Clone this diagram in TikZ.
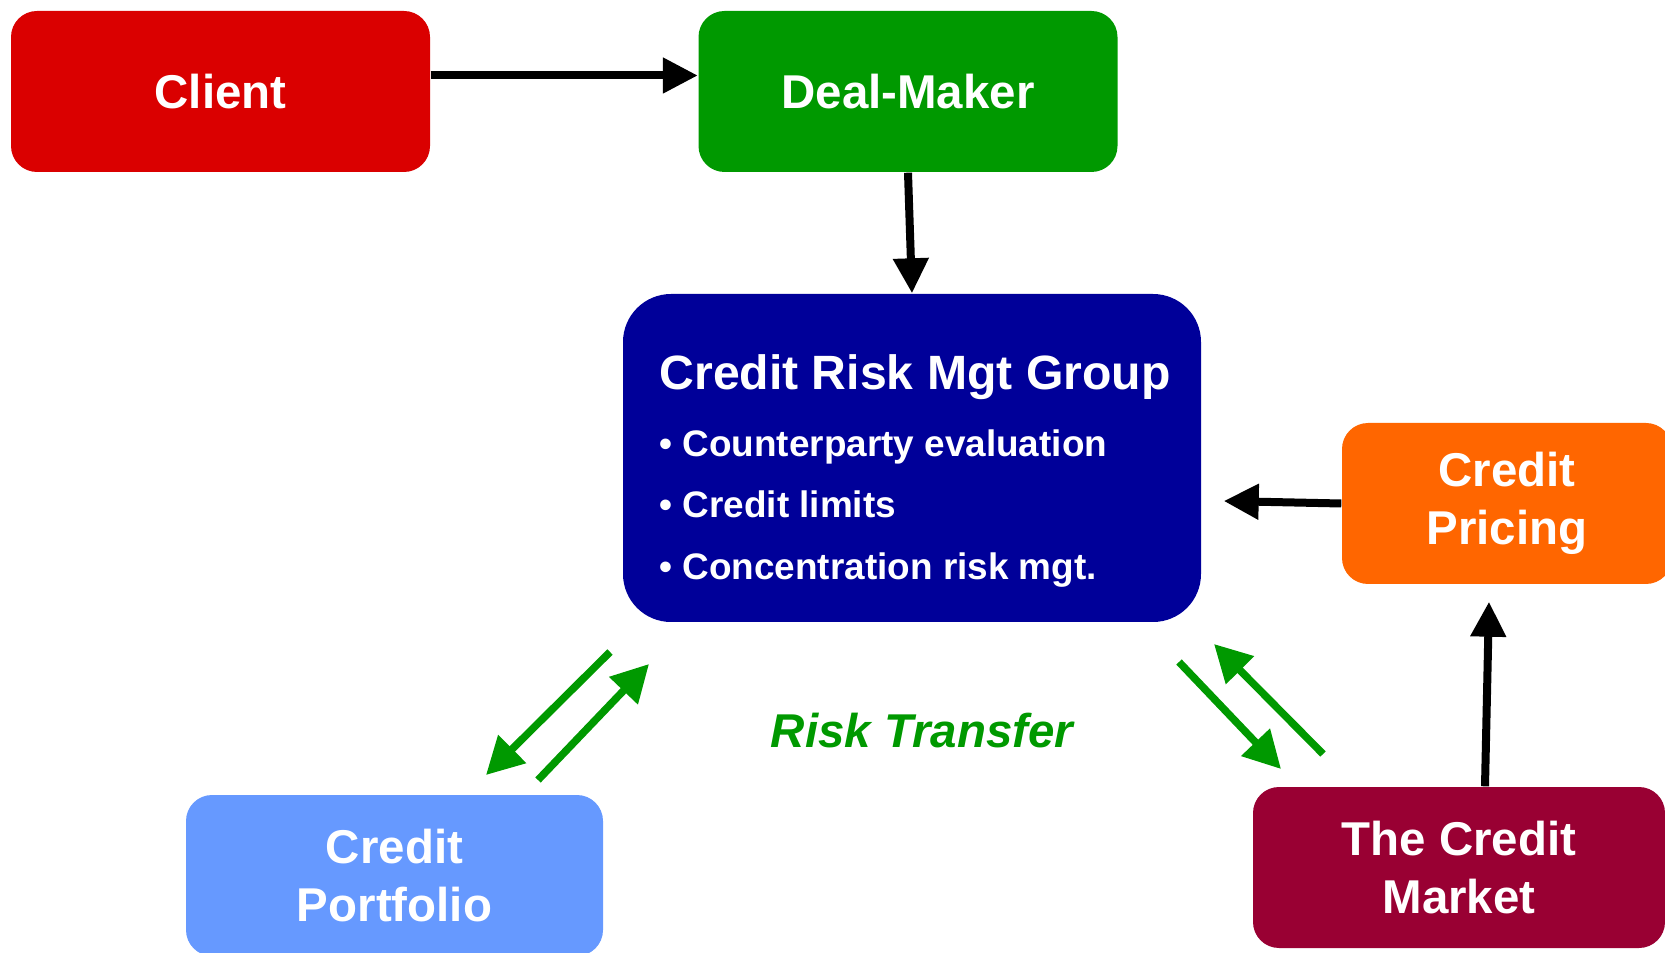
\documentclass[tikz,border=0pt]{standalone}
\usepackage{fontspec}
\setmainfont{Liberation Sans}
\usepackage{tikz}
\usetikzlibrary{arrows.meta, positioning}
\definecolor{clientred}{RGB}{218,0,0}
\definecolor{dealgreen}{RGB}{0,153,0}
\definecolor{crmblue}{RGB}{0,0,153}
\definecolor{priceorange}{RGB}{255,102,0}
\definecolor{marketred}{RGB}{153,0,51}
\definecolor{portblue}{RGB}{102,153,255}
\definecolor{riskgreen}{RGB}{0,153,0}
\newcommand{\crmtitle}{\fontsize{13.7}{16.5}\selectfont}
\newcommand{\crmitem}{\fontsize{10.5}{16.5}\selectfont}
\tikzset{
  box/.style={rounded corners=0.26cm, minimum width=4.19cm, minimum height=1.61cm, inner sep=0pt,
    align=center, text=white, font=\fontsize{13.5}{16.5}\selectfont\bfseries},
  flow/.style={-{Triangle[length=0.35cm, width=0.34cm]}, line width=0.08cm, color=black},
  transfer/.style={-{Triangle[length=0.37cm, width=0.38cm]}, line width=0.075cm, color=riskgreen}
}

\begin{document}
\begin{tikzpicture}
  \useasboundingbox (0,0) rectangle (16.65,9.52);

  % top row: who asks for the deal
  \node[box, fill=clientred] (client) at (2.205, 8.605) {Client};
  \node[box, fill=dealgreen] (deal) at (9.08, 8.605) {Deal-Maker};

  % central group
  \node[box, fill=crmblue, minimum width=5.78cm, minimum height=3.28cm, rounded corners=0.48cm] (crm) at (9.12, 4.94) {};
  \node[align=left, text=white, font=\fontsize{10.5}{16.5}\selectfont\bfseries, inner sep=0pt]
    (crmtext) at ([xshift=0.03cm, yshift=-0.13cm]crm.center)
    {{\crmtitle Credit Risk Mgt Group}\\[2.5pt]
     {\crmitem • Counterparty evaluation}\\[1.1pt]
     {\crmitem • Credit limits}\\[1.1pt]
     {\crmitem • Concentration risk mgt.}};

  % right side: market and pricing
  \node[box, fill=priceorange, minimum width=3.3cm] (pricing) at (15.07, 4.485) {Credit\\Pricing};
  \node[box, fill=marketred, minimum width=4.12cm] (market) at (14.59, 0.845) {The Credit\\Market};

  % bottom left
  \node[box, fill=portblue, minimum width=4.17cm] (portfolio) at (3.945, 0.765) {Credit\\Portfolio};

  % black flows
  \draw[flow] ([yshift=0.16cm]client.east) -- ([yshift=0.16cm]deal.west);
  \draw[flow] (deal.south) -- (crm.north);
  \draw[flow] (pricing.west) -- ([xshift=0.22cm, yshift=-0.43cm]crm.east);
  \draw[flow] ([xshift=0.26cm]market.north) -- ([xshift=-0.18cm, yshift=-0.17cm]pricing.south);

  % risk transfer arrows
  \coordinate (pfout) at (6.10, 3.00);
  \coordinate (pfin)  at (4.86, 1.77);
  \coordinate (pfup)  at (5.38, 1.72);
  \coordinate (pftop) at (6.49, 2.88);
  \coordinate (mkout) at (11.79, 2.90);
  \coordinate (mkin)  at (12.81, 1.83);
  \coordinate (mkup)  at (13.23, 1.98);
  \coordinate (mktop) at (12.14, 3.08);
  \draw[transfer] (pfout) -- (pfin);
  \draw[transfer] (pfup) -- (pftop);
  \draw[transfer] (mkout) -- (mkin);
  \draw[transfer] (mkup) -- (mktop);

  \node[font=\fontsize{13.5}{16}\selectfont\bfseries\itshape, text=riskgreen] (risk) at (9.22, 2.21) {Risk Transfer};
\end{tikzpicture}
\end{document}
